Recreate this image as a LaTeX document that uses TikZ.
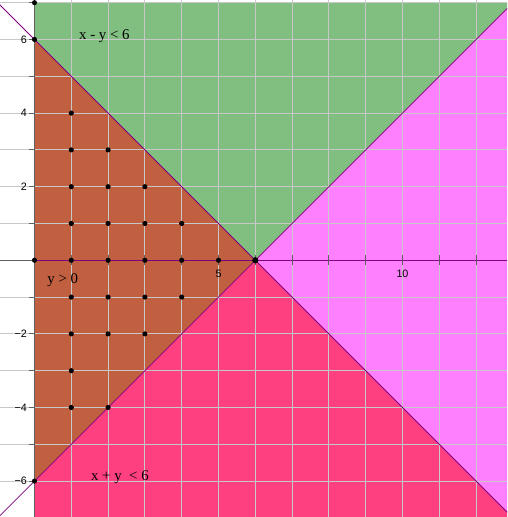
\documentclass[tikz,border=0pt]{standalone}
\usepackage{fontspec}
\setmainfont{Liberation Serif}
\newfontfamily\numfont{Liberation Sans}
\definecolor{rgreen}{RGB}{128,191,128}
\definecolor{rbrown}{RGB}{192,96,64}
\definecolor{rmag}{RGB}{255,128,255}
\definecolor{rred}{RGB}{255,64,128}
\definecolor{gridc}{RGB}{200,200,200}
\definecolor{axisc}{RGB}{96,96,96}
\definecolor{bpurple}{RGB}{128,0,128}
\tikzset{
  gridline/.style={draw=gridc, line width=0.75pt},
  axisline/.style={draw=axisc, line width=1pt},
  tickmark/.style={draw=axisc, line width=0.8pt},
  boundline/.style={draw=bpurple, line width=0.6pt},
  dotmark/.style={circle, fill=black, inner sep=0pt, minimum size=0.14cm},
  bigdot/.style={circle, fill=black, inner sep=0pt, minimum size=0.17cm},
  numlab/.style={font=\numfont\fontsize{8.3}{9}\selectfont, inner sep=0pt},
  ineqlab/.style={font=\fontsize{11.5}{13}\selectfont, inner sep=0pt}
}
\begin{document}
\begin{tikzpicture}[x=1cm,y=1cm]
\useasboundingbox (-0.9375,-6.976) rectangle (12.84,7.073);
\clip (-0.9375,-6.976) rectangle (12.84,7.073);
% regions
\fill[rgreen] (0,6) -- (6,0) -- (13,7) -- (0,7) -- cycle;
\fill[rbrown] (0,6) -- (6,0) -- (0,-6) -- cycle;
\fill[rmag] (6,0) -- (13,7) -- (13,-7) -- cycle;
\fill[rred] (0,-6) -- (6,0) -- (13,-7) -- (0,-7) -- cycle;
% grid
\draw[gridline] (-0.9375,-6.976) grid (12.84,7.073);
% axes
\coordinate (ytop) at (0,7.2);
\coordinate (ybot) at (0,-7.2);
\coordinate (xleft) at (-1,0);
\coordinate (orig) at (0,0);
\coordinate (xright) at (13,0);
\draw[axisline] (ybot) -- (ytop);
\draw[axisline] (xleft) -- (orig);
\draw[draw=bpurple, line width=0.9pt] (orig) -- (xright);
\foreach \t in {1,...,12} \draw[tickmark] (\t,-0.14) -- (\t,0.14);
\foreach \t in {-6,...,7} \draw[tickmark] (-0.15,\t) -- (0,\t);
% boundary lines
\coordinate (a1) at (-1,7);
\coordinate (a2) at (13,-7);
\coordinate (b1) at (-1,-7);
\coordinate (b2) at (13,7);
\draw[boundline] (a1) -- (a2);
\draw[boundline] (b1) -- (b2);
% axis labels
\node[numlab, anchor=east] (ly6) at (-0.2,6) {6};
\node[numlab, anchor=east] (ly4) at (-0.2,4) {4};
\node[numlab, anchor=east] (ly2) at (-0.2,2) {2};
\node[numlab, anchor=east] (lym2) at (-0.2,-2) {−2};
\node[numlab, anchor=east] (lym4) at (-0.2,-4) {−4};
\node[numlab, anchor=east] (lym6) at (-0.2,-6) {−6};
\node[numlab] (lx5) at (5,-0.37) {5};
\node[numlab] (lx10) at (10,-0.37) {10};
% dots
\foreach \px/\py [count=\i] in {1/4, 1/3,2/3, 1/2,2/2,3/2, 1/1,2/1,3/1,4/1,
  0/0,1/0,2/0,3/0,4/0,5/0, 1/-1,2/-1,3/-1,4/-1, 1/-2,2/-2,3/-2, 1/-3, 1/-4,2/-4,
  0/6,0/-6,0/7}
  \node[dotmark] (d\i) at (\px,\py) {};
\node[bigdot] (vertex) at (6,0) {};
% inequality labels
\node[ineqlab] (l1) at (1.90,6.10) {x - y < 6};
\node[ineqlab] (l2) at (0.77,-0.54) {y > 0};
\node[ineqlab] (l3) at (2.32,-5.89) {x + y\ \ < 6};
\end{tikzpicture}
\end{document}
